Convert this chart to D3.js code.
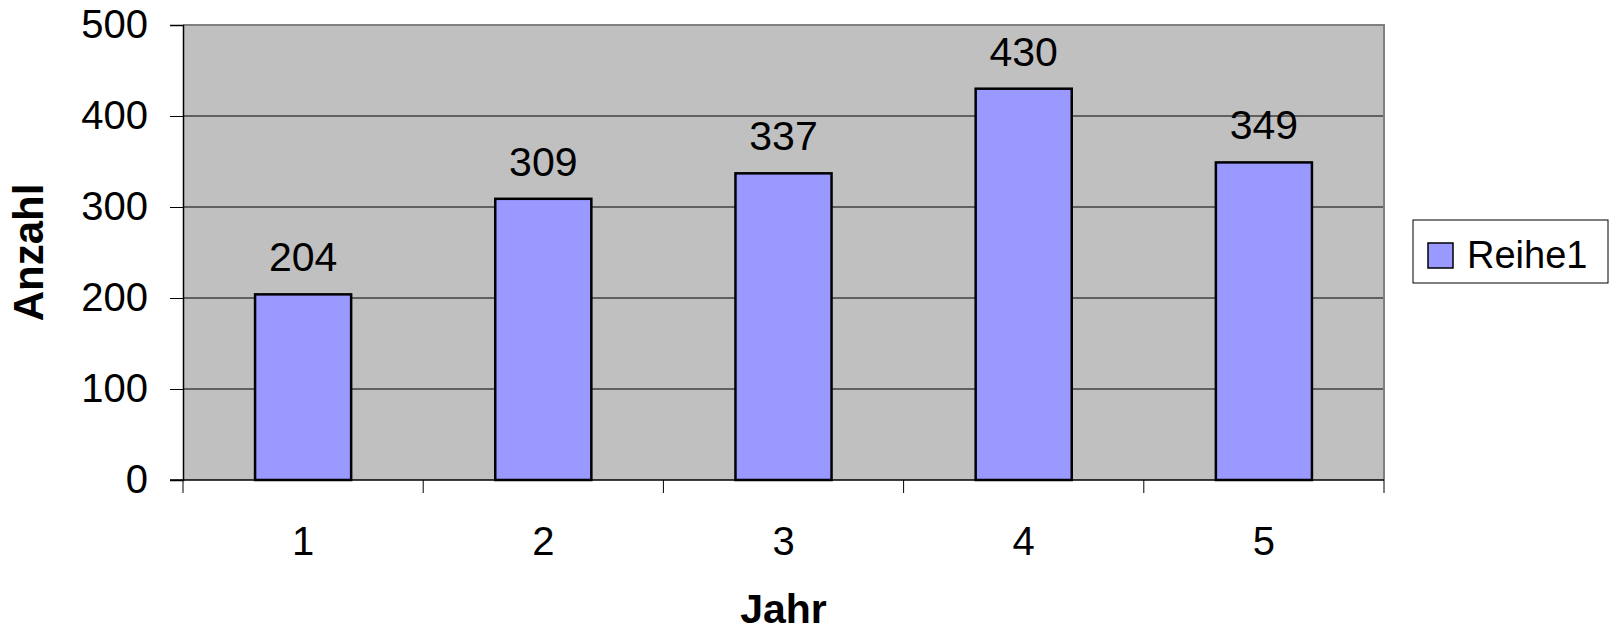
<!DOCTYPE html>
<html>
<head>
<meta charset="utf-8">
<script src="https://cdn.jsdelivr.net/npm/d3@7"></script>
<style>
	body { margin: 0; background: #fff; }
	svg { font-family: Arial, "Liberation Sans", sans-serif; }
</style>
</head>
<body>
<svg id="chart"></svg>
<script>
// chart data
var years = ['1', '2', '3', '4', '5'];
var counts = [204, 309, 337, 430, 349];
var yTicks = [0, 100, 200, 300, 400, 500];
var seriesName = 'Reihe1';
var xTitle = 'Jahr';
var yTitle = 'Anzahl';

var width = 1610, height = 632;
var plot = { left: 183, top: 25, right: 1384, bottom: 480 };

var svg = d3.select('#chart')
	.attr('width', width)
	.attr('height', height);

var x = d3.scaleBand()
	.domain(years)
	.range([plot.left, plot.right])
	.paddingInner(0.6)
	.paddingOuter(0.3);

var y = d3.scaleLinear()
	.domain([0, 500])
	.range([plot.bottom, plot.top]);

// plot background
svg.append('rect')
	.attr('x', plot.left)
	.attr('y', plot.top)
	.attr('width', plot.right - plot.left)
	.attr('height', plot.bottom - plot.top)
	.attr('fill', '#c0c0c0');

// gridlines
svg.append('g')
	.selectAll('line')
	.data(yTicks.filter(function (d) { return d > 0 && d < 500; }))
	.enter()
	.append('line')
	.attr('x1', plot.left)
	.attr('x2', plot.right)
	.attr('y1', function (d) { return y(d); })
	.attr('y2', function (d) { return y(d); })
	.attr('stroke', '#000')
	.attr('stroke-width', 1);

// gray border top + right
svg.append('path')
	.attr('d', 'M' + plot.left + ',' + plot.top + 'H' + plot.right + 'V' + plot.bottom)
	.attr('fill', 'none')
	.attr('stroke', '#808080')
	.attr('stroke-width', 2);

// bars
svg.append('g')
	.selectAll('rect')
	.data(counts)
	.enter()
	.append('rect')
	.attr('x', function (d, i) { return x(years[i]); })
	.attr('y', function (d) { return y(d); })
	.attr('width', x.bandwidth())
	.attr('height', function (d) { return y(0) - y(d); })
	.attr('fill', '#9999ff')
	.attr('stroke', '#000')
	.attr('stroke-width', 2.5);

// value labels
svg.append('g')
	.selectAll('text')
	.data(counts)
	.enter()
	.append('text')
	.attr('x', function (d, i) { return x(years[i]) + x.bandwidth() / 2; })
	.attr('y', function (d) { return y(d) - 23; })
	.attr('text-anchor', 'middle')
	.style('font-size', '41px')
	.text(function (d) { return d; });

// y axis
var yAxis = svg.append('g')
	.attr('transform', 'translate(' + plot.left + ',0)')
	.call(d3.axisLeft(y).tickValues(yTicks).tickSize(13).tickPadding(22));
yAxis.select('.domain').attr('stroke', '#000').attr('stroke-width', 1.5);
yAxis.selectAll('text')
	.style('font-size', '40px')
	.attr('font-family', null)
	.attr('fill', '#000');

// x axis, ticks between categories
var xBounds = [plot.left].concat(years.map(function (d) { return x(d) + x.bandwidth() / 2 + x.step() / 2; }));
var xAxisG = svg.append('g');
xAxisG.append('line')
	.attr('x1', plot.left - 13)
	.attr('x2', plot.right)
	.attr('y1', plot.bottom)
	.attr('y2', plot.bottom)
	.attr('stroke', '#000')
	.attr('stroke-width', 1.5);
xAxisG.selectAll('.tick')
	.data(xBounds)
	.enter()
	.append('line')
	.attr('x1', function (d) { return d; })
	.attr('x2', function (d) { return d; })
	.attr('y1', plot.bottom)
	.attr('y2', plot.bottom + 13)
	.attr('stroke', '#000');
xAxisG.selectAll('text')
	.data(years)
	.enter()
	.append('text')
	.attr('x', function (d) { return x(d) + x.bandwidth() / 2; })
	.attr('y', plot.bottom + 75)
	.attr('text-anchor', 'middle')
	.style('font-size', '40px')
	.text(function (d) { return d; });

// axis titles
svg.append('text')
	.attr('x', (plot.left + plot.right) / 2)
	.attr('y', 623)
	.attr('text-anchor', 'middle')
	.style('font-size', '41px')
	.style('font-weight', 'bold')
	.text(xTitle);

svg.append('text')
	.attr('transform', 'translate(43,' + (plot.top + plot.bottom) / 2 + ') rotate(-90)')
	.attr('text-anchor', 'middle')
	.style('font-size', '42px')
	.style('font-weight', 'bold')
	.text(yTitle);

// legend
var legend = svg.append('g').attr('transform', 'translate(1413,220)');
legend.append('rect')
	.attr('width', 195)
	.attr('height', 63)
	.attr('fill', '#fff')
	.attr('stroke', '#000')
	.attr('stroke-width', 1);
legend.append('rect')
	.attr('x', 15)
	.attr('y', 23)
	.attr('width', 25)
	.attr('height', 25)
	.attr('fill', '#9999ff')
	.attr('stroke', '#000')
	.attr('stroke-width', 1.5);
legend.append('text')
	.attr('x', 54)
	.attr('y', 48)
	.style('font-size', '38px')
	.text(seriesName);
</script>
</body>
</html>
